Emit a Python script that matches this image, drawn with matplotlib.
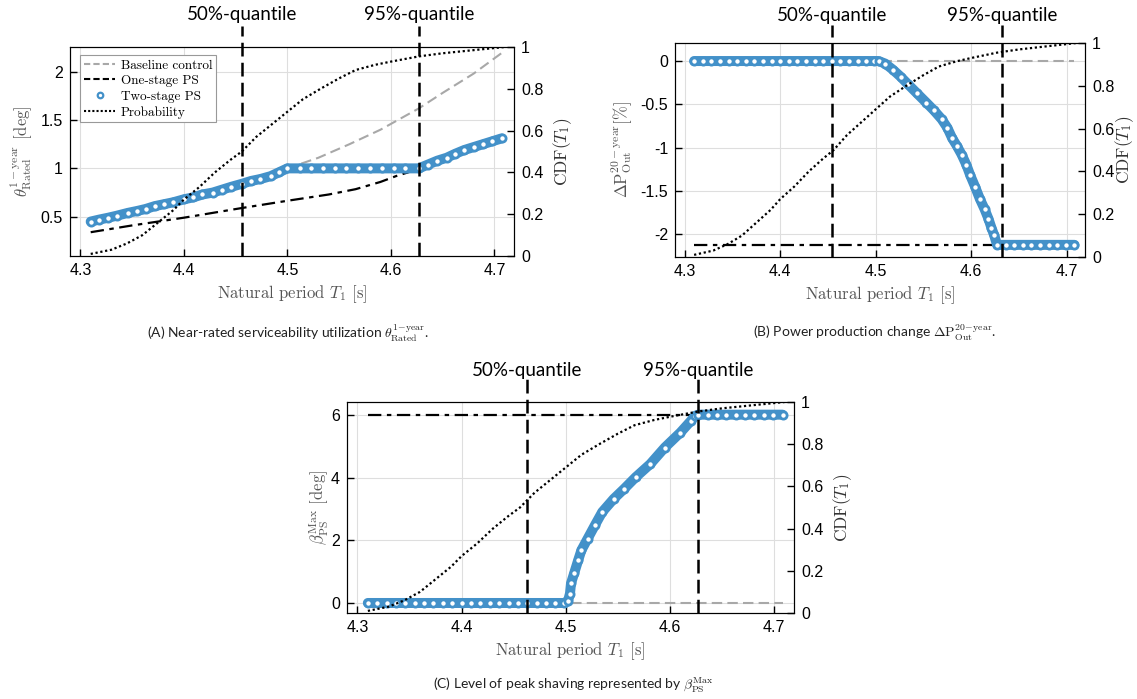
import numpy as np
import matplotlib.pyplot as plt
from matplotlib.lines import Line2D
from matplotlib.ticker import FixedLocator, FixedFormatter

plt.rcParams['mathtext.fontset'] = 'cm'
plt.rcParams['axes.unicode_minus'] = False
plt.rcParams['font.family'] = ['Liberation Sans', 'DejaVu Sans']

BLUE = '#4391c9'
GRAY = '#a8a8a8'
LABGRAY = '#555555'

# cumulative distribution of the natural period (same in all panels)
t_cdf = [4.310, 4.330, 4.345, 4.360, 4.375, 4.390, 4.400, 4.415, 4.430, 4.445,
         4.456, 4.470, 4.485, 4.500, 4.515, 4.532, 4.550, 4.566, 4.585, 4.600,
         4.627, 4.650, 4.670, 4.690, 4.710]
cdf = [0.01, 0.03, 0.06, 0.10, 0.16, 0.22, 0.27, 0.33, 0.40, 0.46,
       0.50, 0.57, 0.63, 0.69, 0.75, 0.80, 0.85, 0.89, 0.915, 0.93,
       0.955, 0.97, 0.98, 0.99, 1.00]

# (A) near-rated serviceability utilization
tA_two = [4.310, 4.318, 4.327, 4.335, 4.346, 4.355, 4.363, 4.372, 4.381, 4.390,
          4.400, 4.409, 4.418, 4.428, 4.437, 4.446, 4.456, 4.465, 4.474, 4.484,
          4.492, 4.500, 4.512, 4.523, 4.534, 4.546, 4.557, 4.568, 4.580, 4.591,
          4.603, 4.614, 4.627, 4.636, 4.645, 4.654, 4.662, 4.671, 4.680, 4.689,
          4.698, 4.707]
thA_two = [0.45, 0.47, 0.49, 0.51, 0.54, 0.56, 0.58, 0.61, 0.63, 0.65,
           0.68, 0.70, 0.73, 0.75, 0.78, 0.81, 0.84, 0.87, 0.89, 0.92,
           0.96, 1.00, 1.00, 1.00, 1.00, 1.00, 1.00, 1.00, 1.00, 1.00,
           1.00, 1.00, 1.00, 1.04, 1.08, 1.11, 1.15, 1.19, 1.22, 1.25,
           1.28, 1.31]
tA_base = [4.310, 4.400, 4.456, 4.484, 4.500, 4.530, 4.560, 4.590, 4.627, 4.650, 4.680, 4.708]
thA_base = [0.45, 0.68, 0.84, 0.92, 1.00, 1.11, 1.25, 1.40, 1.62, 1.78, 1.98, 2.20]
tA_one = [4.310, 4.350, 4.400, 4.456, 4.500, 4.540, 4.566, 4.590, 4.605, 4.617, 4.627]
thA_one = [0.34, 0.41, 0.49, 0.59, 0.665, 0.73, 0.785, 0.86, 0.92, 0.96, 1.00]
qA = [4.456, 4.627]

# (B) power production change
tB_two = [4.310, 4.319, 4.328, 4.337, 4.346, 4.355, 4.364, 4.373, 4.382, 4.391,
          4.400, 4.409, 4.418, 4.427, 4.436, 4.445, 4.454, 4.463, 4.472, 4.481,
          4.490, 4.498, 4.503, 4.510, 4.518, 4.526, 4.534, 4.543, 4.553, 4.561,
          4.569, 4.575, 4.580, 4.585, 4.590, 4.595, 4.599, 4.604, 4.609, 4.614,
          4.618, 4.621, 4.624, 4.627, 4.636, 4.645, 4.654, 4.663, 4.672, 4.681,
          4.690, 4.699, 4.708]
dpB_two = [0.0, 0.0, 0.0, 0.0, 0.0, 0.0, 0.0, 0.0, 0.0, 0.0,
           0.0, 0.0, 0.0, 0.0, 0.0, 0.0, 0.0, 0.0, 0.0, 0.0,
           0.0, 0.0, 0.0, -0.03, -0.10, -0.18, -0.27, -0.37, -0.48, -0.57,
           -0.67, -0.77, -0.89, -0.98, -1.08, -1.20, -1.32, -1.45, -1.59, -1.71,
           -1.82, -1.92, -2.01, -2.12, -2.12, -2.12, -2.12, -2.12, -2.12, -2.12,
           -2.12, -2.12, -2.12]
tB_base = [4.310, 4.708]
dpB_base = [0.0, 0.0]
tB_one = [4.310, 4.627]
dpB_one = [-2.12, -2.12]
qB = [4.454, 4.632]

# (C) level of peak shaving
tC_two = [4.310, 4.319, 4.328, 4.337, 4.346, 4.355, 4.364, 4.373, 4.382, 4.391,
          4.400, 4.409, 4.418, 4.427, 4.436, 4.445, 4.454, 4.463, 4.472, 4.481,
          4.490, 4.498, 4.502, 4.504, 4.505, 4.508, 4.512, 4.515, 4.521, 4.528,
          4.535, 4.546, 4.556, 4.567, 4.581, 4.595, 4.610, 4.620, 4.624, 4.627,
          4.636, 4.645, 4.654, 4.663, 4.672, 4.681, 4.690, 4.699, 4.708]
bC_two = [0.0, 0.0, 0.0, 0.0, 0.0, 0.0, 0.0, 0.0, 0.0, 0.0,
          0.0, 0.0, 0.0, 0.0, 0.0, 0.0, 0.0, 0.0, 0.0, 0.0,
          0.0, 0.0, 0.05, 0.30, 0.63, 0.95, 1.38, 1.69, 2.06, 2.49,
          2.91, 3.33, 3.65, 4.02, 4.44, 4.97, 5.45, 5.82, 5.98, 6.02,
          6.02, 6.02, 6.02, 6.02, 6.02, 6.02, 6.02, 6.02, 6.02]
tC_base = [4.310, 4.708]
bC_base = [0.0, 0.0]
tC_one = [4.310, 4.627]
bC_one = [6.0, 6.0]
qC = [4.463, 4.627]

x_ticks = [4.3, 4.4, 4.5, 4.6, 4.7]
x_labels = ['4.3', '4.4', '4.5', '4.6', '4.7']
cdf_ticks = [0, 0.2, 0.4, 0.6, 0.8, 1]
cdf_labels = ['0', '0.2', '0.4', '0.6', '0.8', '1']
yA_ticks, yA_labels = [0.5, 1, 1.5, 2], ['0.5', '1', '1.5', '2']
yB_ticks, yB_labels = [-2, -1.5, -1, -0.5, 0], ['-2', '-1.5', '-1', '-0.5', '0']
yC_ticks, yC_labels = [0, 2, 4, 6], ['0', '2', '4', '6']

q_names = ['50%-quantile', '95%-quantile']

fig = plt.figure(figsize=(11.37, 6.99), dpi=100)

SERIF = 'cmr10'


def panel(rect, t_two, y_two, t_base, y_base, t_one, y_one, q, ylim,
          yticks, ylabels, ylabel, line_top, text_y, ylabelpad=4, cdfpad=6):
    ax = fig.add_axes(rect)
    ax.grid(True, color='#dedede', lw=0.8)
    ax.set_axisbelow(True)
    ax.plot(t_base, y_base, color=GRAY, lw=1.5, ls=(0, (5, 2.5)), zorder=2)
    ax.plot(t_one, y_one, color='black', lw=1.6, ls=(0, (6, 2.5, 2, 2.5)), zorder=2)
    ax.plot(t_two, y_two, color=BLUE, lw=7.2, solid_capstyle='round',
            solid_joinstyle='round', zorder=3)
    ax.plot(t_two, y_two, 'o', ms=5.2, mfc='white', mec=BLUE, mew=2.0, zorder=4)
    ax.set_xlim(4.29, 4.719)
    ax.set_ylim(*ylim)
    ax.xaxis.set_major_locator(FixedLocator(x_ticks))
    ax.xaxis.set_major_formatter(FixedFormatter(x_labels))
    ax.yaxis.set_major_locator(FixedLocator(yticks))
    ax.yaxis.set_major_formatter(FixedFormatter(ylabels))
    ax.tick_params(direction='in', length=5, width=1, labelsize=11.5, pad=5)
    ax.set_xlabel('Natural period $T_1$ [s]', family=SERIF, fontsize=12,
                  color=LABGRAY, labelpad=4)
    ax.set_ylabel(ylabel, family=SERIF, fontsize=12, color=LABGRAY, labelpad=ylabelpad)

    ax2 = ax.twinx()
    ax2.plot(t_cdf, cdf, color='black', ls=(0, (1, 1.2)), lw=1.6)
    ax2.set_ylim(0, 1)
    ax2.yaxis.set_major_locator(FixedLocator(cdf_ticks))
    ax2.yaxis.set_major_formatter(FixedFormatter(cdf_labels))
    ax2.tick_params(direction='in', length=5, width=1, labelsize=11.5, pad=5)
    ax2.set_ylabel('CDF$(T_1)$', family=SERIF, fontsize=12.5, color='#333333',
                   labelpad=cdfpad)

    tr = ax2.get_xaxis_transform()
    for qx, name in zip(q, q_names):
        ax2.plot([qx, qx], [0, line_top], transform=tr, color='black', lw=1.8,
                 ls=(0, (5.5, 2.5)), clip_on=False, zorder=6)
        ax2.text(qx, text_y, name, transform=tr, ha='center', va='center',
                 family='Lato', fontsize=13.5)
    return ax


W, H = 1137, 699


def rect(l, t, r, b):
    return [l / W, 1 - b / H, (r - l) / W, (b - t) / H]


axA = panel(rect(70, 47, 514, 256), tA_two, thA_two, tA_base, thA_base, tA_one, thA_one,
            qA, (0.094, 2.255), yA_ticks, yA_labels,
            r'$\theta_{\mathrm{Rated}}^{1-\mathrm{year}}$ [deg]', 1.10, 1.155)
axB = panel(rect(675, 43, 1085, 257), tB_two, dpB_two, tB_base, dpB_base, tB_one, dpB_one,
            qB, (-2.26, 0.208), yB_ticks, yB_labels,
            r'$\Delta\mathrm{P}_{\mathrm{Out}}^{20-\mathrm{year}}[\%]$', 1.085, 1.13,
            cdfpad=-1)
axC = panel(rect(347, 402, 794, 613), tC_two, bC_two, tC_base, bC_base, tC_one, bC_one,
            qC, (-0.32, 6.425), yC_ticks, yC_labels,
            r'$\beta_{\mathrm{PS}}^{\mathrm{Max}}$ [deg]', 1.114, 1.148, ylabelpad=0)

handles = [
    Line2D([], [], color=GRAY, lw=1.5, ls=(0, (3, 1.5))),
    Line2D([], [], color='black', lw=1.5, ls=(0, (3, 1.5))),
    Line2D([], [], ls='none', marker='o', ms=4, mfc='white', mec=BLUE, mew=1.6),
    Line2D([], [], color='black', lw=1.5, ls=(0, (1, 1))),
]
labels = ['Baseline control', 'One-stage PS', 'Two-stage PS', 'Probability']
leg = axA.legend(handles, labels, loc='upper left', bbox_to_anchor=(0.022, 0.96),
                 prop={'family': SERIF, 'size': 9.5}, frameon=True, fancybox=False,
                 edgecolor='#999999', framealpha=1, handlelength=2.4,
                 handletextpad=0.4, labelspacing=0.25, borderpad=0.3, borderaxespad=0)
leg.set_zorder(10)
leg.get_frame().set_linewidth(0.8)

fig.text(288 / W, 1 - 333 / H,
         r'(A) Near-rated serviceability utilization $\theta^{\mathrm{1\!-\!year}}_{\mathrm{Rated}}$.',
         ha='center', va='center', family='Lato', fontsize=10, color='#222222')
fig.text(875 / W, 1 - 333 / H,
         r'(B) Power production change $\Delta\mathrm{P}^{\mathrm{20\!-\!year}}_{\mathrm{Out}}$.',
         ha='center', va='center', family='Lato', fontsize=10, color='#222222')
fig.text(573 / W, 1 - 685 / H,
         r'(C) Level of peak shaving represented by $\beta^{\mathrm{Max}}_{\mathrm{PS}}$',
         ha='center', va='center', family='Lato', fontsize=10, color='#222222')

fig.savefig('out.png', dpi=100)
